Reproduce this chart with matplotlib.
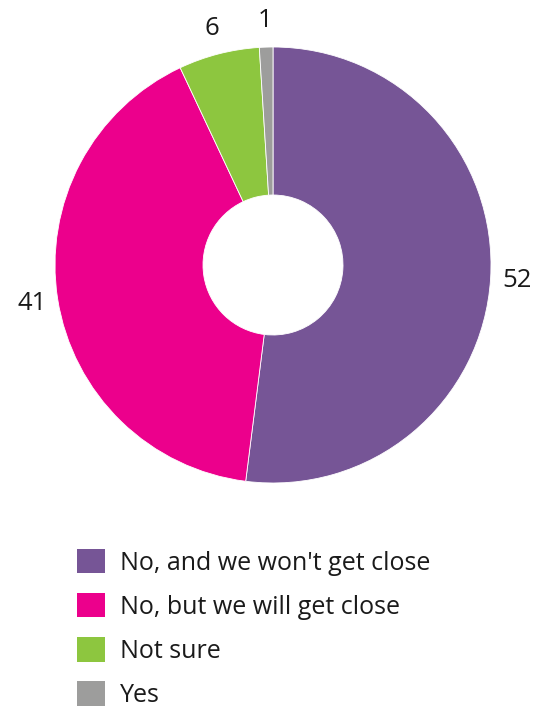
import matplotlib.pyplot as plt
import numpy as np

plt.rcParams['font.family'] = ['Open Sans', 'DejaVu Sans']

# survey answers, in pie order (clockwise from 12 o'clock)
answers = ["No, and we won't get close", "No, but we will get close", "Not sure", "Yes"]
counts = [52, 41, 6, 1]
colours = ['#765596', '#EC008C', '#8DC63F', '#9D9D9C']

W, H = 538, 709
fig = plt.figure(figsize=(W / 100, H / 100), dpi=100)
ax = fig.add_axes([0, 0, 1, 1])

R = 218
cx, cy = 273, H - 265
wedges, _ = ax.pie(counts, colors=colours, startangle=90, counterclock=False,
                   center=(cx, cy), radius=R, frame=True,
                   wedgeprops=dict(width=R - 70, edgecolor='white', linewidth=0.6))
ax.set_xlim(0, W)
ax.set_ylim(0, H)
ax.set_aspect('equal')
ax.axis('off')

# value labels just outside the ring
for w, n in zip(wedges, counts):
    ang = np.deg2rad((w.theta1 + w.theta2) / 2)
    d = R * 1.12
    ax.text(cx + d * np.cos(ang), cy + d * np.sin(ang), str(n),
            ha='center', va='center', fontsize=18.5, color='#1a1a1a')

# legend
handles = [plt.Rectangle((0, 0), 1, 1, fc=c, ec='none') for c in colours]
fig.legend(handles, answers, loc='upper left', bbox_to_anchor=(54.5 / W, 1 - 526.5 / H),
           frameon=False, fontsize=18, handlelength=1.12, handleheight=1.12,
           handletextpad=0.6, labelspacing=0.7, labelcolor='#1a1a1a')

fig.savefig('out.png', dpi=100)
